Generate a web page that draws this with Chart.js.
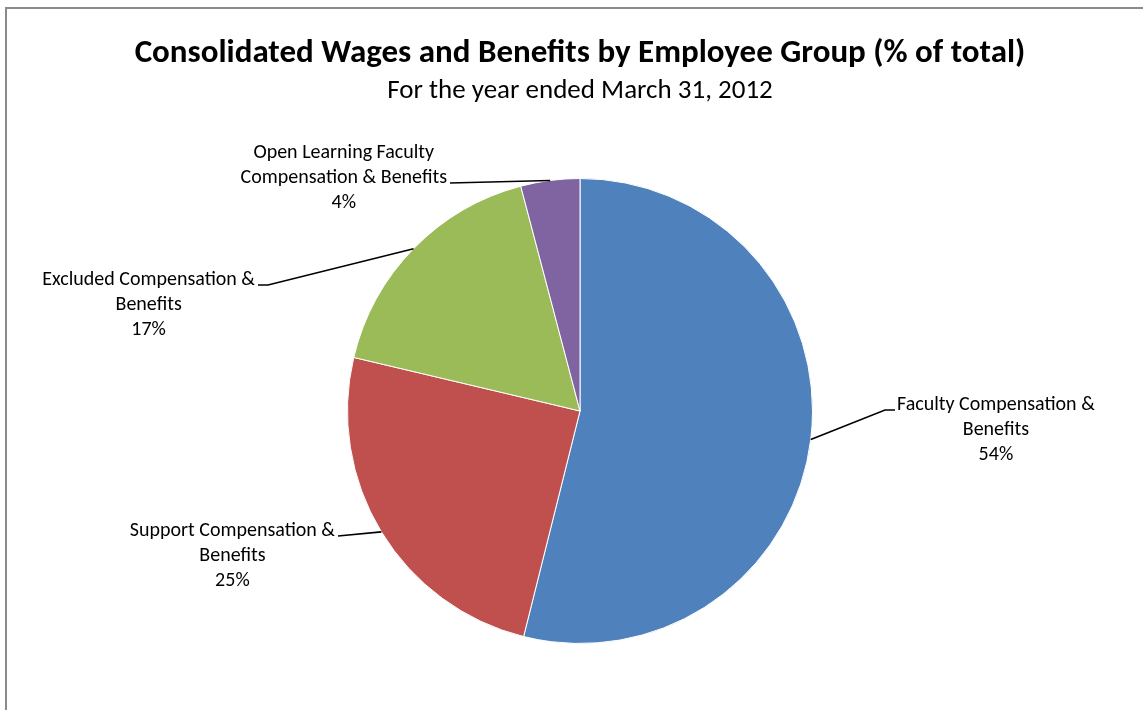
<!DOCTYPE html>
<html lang="en">
  <head>
    <meta charset="UTF-8" />
    <title>Consolidated Wages and Benefits by Employee Group</title>
    <script src="https://cdn.jsdelivr.net/npm/chart.js"></script>
    <style>
      body {
        margin: 0;
        padding: 0;
        background: #fff;
        overflow: hidden;
      }
      .frame {
        position: absolute;
        left: 5px;
        top: 7px;
        right: -10px;
        bottom: -10px;
        border-top: 2px solid #8a8a8a;
        border-left: 2px solid #8a8a8a;
        pointer-events: none;
      }
      canvas {
        display: block;
      }
    </style>
  </head>
  <body>
    <canvas id="pieChart" width="1143" height="710"></canvas>
    <div class="frame"></div>

    <script>
      // data
      const categories = [
        "Faculty Compensation & Benefits",
        "Support Compensation & Benefits",
        "Excluded Compensation & Benefits",
        "Open Learning Faculty Compensation & Benefits",
      ];
      const categoryLines = [
        ["Faculty Compensation &", "Benefits"],
        ["Support Compensation &", "Benefits"],
        ["Excluded Compensation &", "Benefits"],
        ["Open Learning Faculty", "Compensation & Benefits"],
      ];
      const shares = [53.9, 24.8, 17.2, 4.1];
      const sliceColors = ["#4f81bd", "#c0504d", "#9bbb59", "#8064a2"];

      // where each label sits, relative to the pie centre
      const labelSpots = [
        { elbow: [305, -1], tail: 10, side: "right", attach: 0 },
        { elbow: [-242, 125], tail: 0, side: "left", attach: 0 },
        { elbow: [-312, -126], tail: 10, side: "left", attach: 0 },
        { elbow: [-130, -228], tail: 0, side: "left", attach: 1 },
      ];

      const fontStack = "Carlito, Lato, sans-serif";
      const labelFont = "20px " + fontStack;
      const lineGap = 25;

      const leaderLabels = {
        id: "leaderLabels",
        afterDatasetsDraw(chart) {
          const ctx = chart.ctx;
          const arcs = chart.getDatasetMeta(0).data;
          const total = shares.reduce((a, b) => a + b, 0);
          ctx.save();
          ctx.font = labelFont;
          arcs.forEach((arc, i) => {
            const spot = labelSpots[i];
            const mid = (arc.startAngle + arc.endAngle) / 2;
            const sx = arc.x + Math.cos(mid) * arc.outerRadius;
            const sy = arc.y + Math.sin(mid) * arc.outerRadius;
            const ex = arc.x + spot.elbow[0];
            const ey = arc.y + spot.elbow[1];
            const dir = spot.side === "right" ? 1 : -1;
            const tx = ex + dir * spot.tail;

            ctx.strokeStyle = "#000";
            ctx.lineWidth = 1.6;
            ctx.beginPath();
            ctx.moveTo(sx, sy);
            ctx.lineTo(ex, ey);
            ctx.lineTo(tx, ey);
            ctx.stroke();

            const lines = categoryLines[i].concat([
              Math.round((shares[i] / total) * 100) + "%",
            ]);
            const anchorW = ctx.measureText(lines[spot.attach]).width;
            const cx =
              spot.side === "right"
                ? tx + 2 + anchorW / 2
                : tx - 3 - anchorW / 2;
            const firstY = ey - 5 - spot.attach * lineGap;

            ctx.fillStyle = "#000";
            ctx.textAlign = "center";
            ctx.textBaseline = "middle";
            lines.forEach((t, k) => {
              ctx.fillText(t, cx, firstY + k * lineGap);
            });
          });
          ctx.restore();
        },
      };

      new Chart(document.getElementById("pieChart"), {
        type: "pie",
        data: {
          labels: categories,
          datasets: [
            {
              data: shares,
              backgroundColor: sliceColors,
              borderColor: "#ffffff",
              borderWidth: 1,
            },
          ],
        },
        options: {
          responsive: false,
          animation: false,
          layout: {
            padding: { top: 10, bottom: 66, left: 17, right: 0 },
          },
          plugins: {
            legend: { display: false },
            tooltip: { enabled: false },
            title: {
              display: true,
              text: "Consolidated Wages and Benefits by Employee Group (% of total)",
              color: "#000",
              font: { family: fontStack, size: 33, weight: "bold" },
              padding: { top: 24, bottom: 0 },
            },
            subtitle: {
              display: true,
              text: "For the year ended March 31, 2012",
              color: "#000",
              font: { family: fontStack, size: 27, weight: "normal" },
              padding: { top: 1, bottom: 71 },
            },
          },
        },
        plugins: [leaderLabels],
      });
    </script>
  </body>
</html>
